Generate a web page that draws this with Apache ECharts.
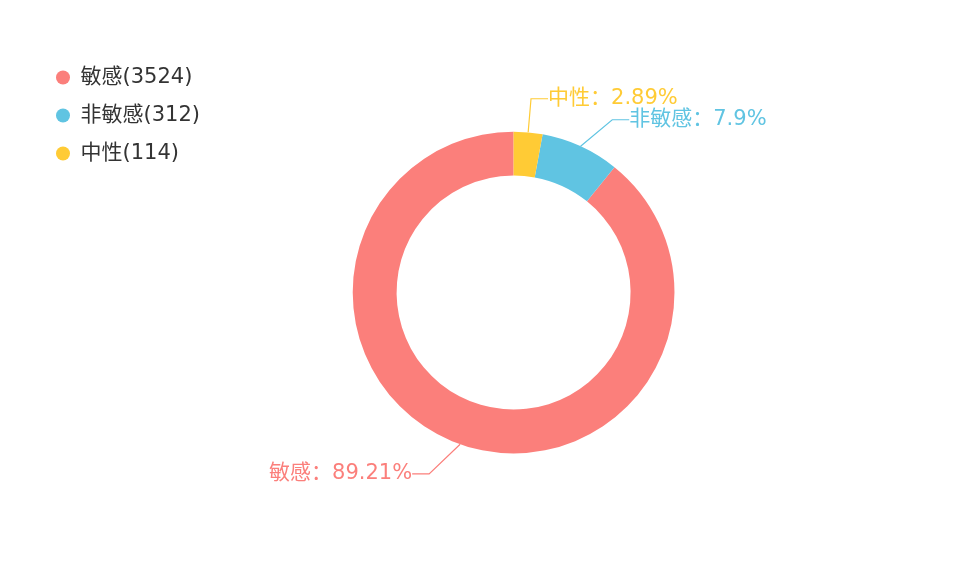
<!DOCTYPE html>
<html>
<head>
<meta charset="utf-8">
<script src="https://cdn.jsdelivr.net/npm/echarts@6/dist/echarts.min.js"></script>
<style>
html,body{margin:0;padding:0;background:#fff;}
#main{width:960px;height:585px;}
</style>
</head>
<body>
<div id="main"></div>
<script>
var categories = ['敏感', '非敏感', '中性'];
var values = [3524, 312, 114];
var colors = ['#fb7f7b', '#60c4e2', '#ffcb35'];

var LEN1 = 31.5, LEN2 = 17, LABEL_GAP = 21, CURVE_EXTRA = 15.5;

var chart = echarts.init(document.getElementById('main'));
var data = categories.map(function (c, i) {
  return { name: c, value: values[i], itemStyle: { color: colors[i] }, label: { color: colors[i] }, labelLine: { lineStyle: { color: colors[i] } } };
});
var FONT = '"DejaVu Sans", "Noto Sans CJK SC", sans-serif';
chart.setOption({
  animation: false,
  legend: {
    orient: 'vertical',
    left: 51,
    top: 62,
    icon: 'circle',
    itemWidth: 25,
    itemHeight: 14,
    itemGap: 17,
    data: categories,
    textStyle: { fontSize: 21, color: '#333', fontFamily: FONT },
    formatter: function (name) {
      var i = categories.indexOf(name);
      return name + '(' + values[i] + ')';
    }
  },
  series: [{
    type: 'pie',
    center: ['53.5%', '50%'],
    radius: ['40%', '55%'],
    clockwise: false,
    startAngle: 90,
    data: data,
    label: {
      formatter: '{b}：{d}%',
      fontSize: 21,
      fontFamily: FONT,
      distanceToLabelLine: 0
    },
    labelLine: { length: LEN1, length2: LEN2, lineStyle: { width: 1.2 } }
  }]
});

// Re-place labels in the classic (older ECharts) style, from the library's own sector layout
var placed = {};
try {
  var sd = chart.getModel().getSeriesByIndex(0).getData();
  var items = [];
  for (var i = 0; i < sd.count(); i++) {
    var L = sd.getItemLayout(i);
    var mid = (L.startAngle + L.endAngle) / 2;
    var dx = Math.cos(mid), dy = Math.sin(mid);
    items.push({
      i: i, cx: L.cx, cy: L.cy, r: L.r, side: dx < 0 ? -1 : 1,
      x1: L.cx + L.r * dx, y1: L.cy + L.r * dy,
      x2: L.cx + (L.r + LEN1) * dx, y: L.cy + (L.r + LEN1) * dy
    });
  }
  [-1, 1].forEach(function (side) {
    var list = items.filter(function (it) { return it.side === side; })
      .sort(function (a, b) { return a.y - b.y; });
    for (var k = 1; k < list.length; k++) {
      var gap = list[k].y - list[k - 1].y;
      if (gap < LABEL_GAP) {
        var s = LABEL_GAP - gap;
        list[k - 1].y -= s / 2;
        list[k].y += s / 2;
      }
    }
  });
  items.forEach(function (it) {
    var ady = Math.abs(it.y - it.cy);
    var endX;
    if (ady < it.r + LEN1) {
      var R = it.r + LEN1 + CURVE_EXTRA;
      endX = it.cx + it.side * Math.sqrt(R * R - ady * ady);
    } else {
      endX = it.x2 + it.side * LEN2;
    }
    var bendX = endX - it.side * LEN2;
    placed[it.i] = {
      x: endX,
      y: it.y,
      align: it.side > 0 ? 'left' : 'right',
      verticalAlign: 'middle',
      labelLinePoints: [[it.x1, it.y1], [bendX, it.y], [endX, it.y]]
    };
  });
  chart.setOption({
    series: [{
      labelLayout: function (params) {
        return placed[params.dataIndex] || {};
      }
    }]
  });
} catch (e) { /* keep default layout */ }
</script>
</body>
</html>
